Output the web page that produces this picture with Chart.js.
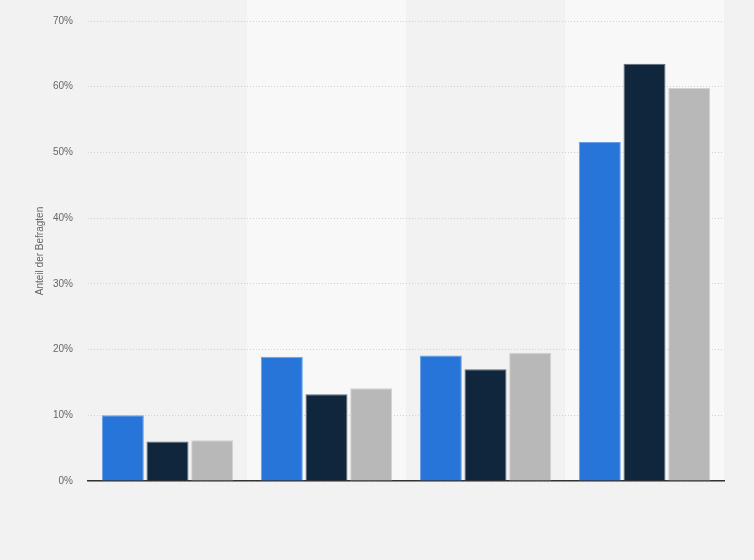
<!DOCTYPE html>
<html>
<head>
<meta charset="utf-8">
<script src="https://cdn.jsdelivr.net/npm/chart.js@4"></script>
<style>
  html, body { margin: 0; padding: 0; background: #f2f2f2; }
  #wrap { width: 754px; height: 560px; }
</style>
</head>
<body>
<div id="wrap"><canvas id="graphique" width="754" height="560"></canvas></div>
<script>
// Werte (in %)
const kategorien = ["", "", "", ""]
const serieBlau = [10.0, 18.9, 19.1, 51.6]
const serieDunkel = [6.0, 13.2, 17.0, 63.5]
const serieGrau = [6.2, 14.1, 19.5, 59.8]
const yTicks = [0, 10, 20, 30, 40, 50, 60, 70]

// Abwechselnde Hintergrundstreifen je Kategorie (unter Gitter und Achse)
const streifen = {
    id: "streifen",
    beforeDraw(chart) {
        const ctx = chart.ctx
        const x = chart.scales.x
        const area = chart.chartArea
        const breite = (area.right - area.left) / kategorien.length
        ctx.save()
        ctx.fillStyle = "#f8f8f8"
        kategorien.forEach((k, i) => {
            if (i % 2 === 1) {
                const mitte = x.getPixelForValue(i)
                ctx.fillRect(mitte - breite / 2, 0, breite, area.bottom)
            }
        })
        ctx.restore()
    }
}

const data = {
    labels: kategorien,
    datasets: [
        { data: serieBlau, backgroundColor: "#2775d9", borderColor: "#6a9fe6", borderWidth: 1 },
        { data: serieDunkel, backgroundColor: "#10263d", borderColor: "#5d6b7a", borderWidth: 1 },
        { data: serieGrau, backgroundColor: "#b8b8b8", borderColor: "#d2d2d2", borderWidth: 1 }
    ]
}

const config = {
    type: "bar",
    data: data,
    plugins: [streifen],
    options: {
        responsive: false,
        animation: false,
        categoryPercentage: 0.843,
        barPercentage: 0.94,
        layout: { padding: { left: 0, right: 30, top: 20, bottom: 79 } },
        plugins: { legend: { display: false }, tooltip: { enabled: false } },
        scales: {
            x: {
                ticks: { display: false },
                grid: { display: false, drawTicks: false },
                border: { color: "#333333", width: 1.5 },
                afterFit(scale) { scale.height = 0 }
            },
            y: {
                min: 0,
                max: 70,
                afterBuildTicks(scale) { scale.ticks = yTicks.map(v => ({ value: v })) },
                ticks: {
                    callback: v => v + "%",
                    color: "#666666",
                    font: { family: "Liberation Sans, Arial", size: 10 },
                    padding: 15
                },
                grid: { color: "#cfcfcf", drawTicks: false, lineWidth: 1 },
                border: { display: false, dash: [1, 2] },
                title: {
                    display: true,
                    text: "Anteil der Befragten",
                    color: "#666666",
                    font: { family: "Liberation Sans, Arial", size: 10 },
                    padding: { top: 34, bottom: 0 }
                },
                afterFit(scale) { scale.width = 88 }
            }
        }
    }
}

const graphique = new Chart(document.querySelector("#graphique"), config)
</script>
</body>
</html>
